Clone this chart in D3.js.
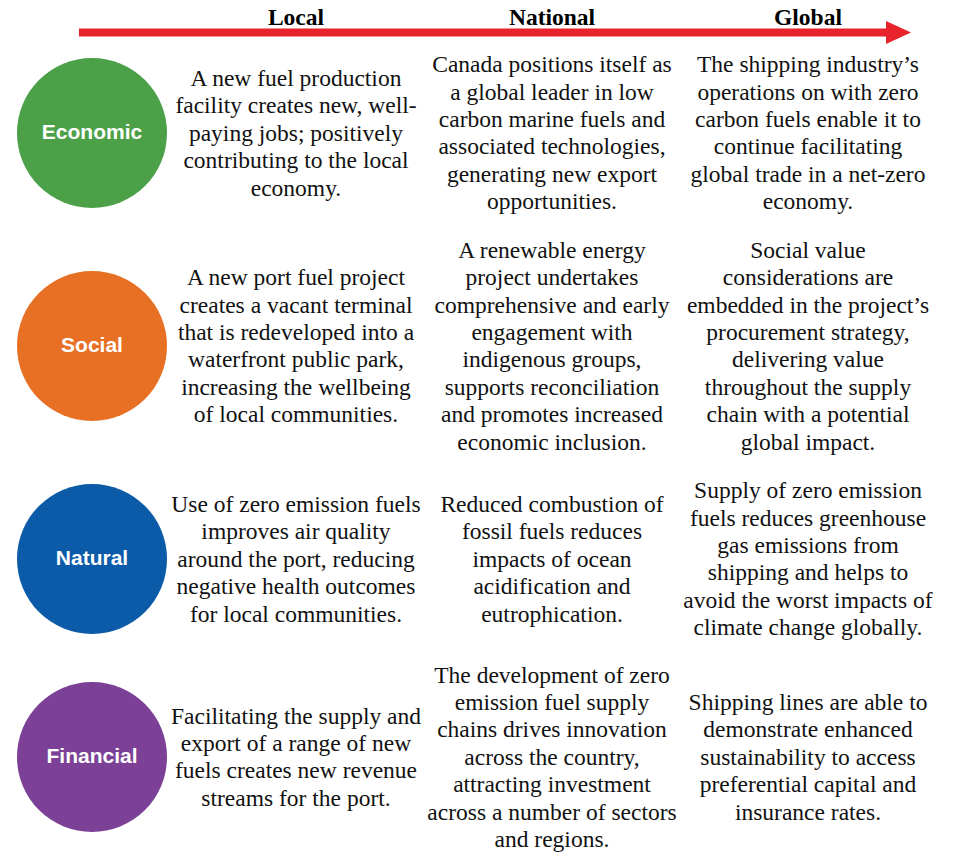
<!DOCTYPE html>
<html>
<head>
<meta charset="utf-8">
<script src="https://cdn.jsdelivr.net/npm/d3@7"></script>
<style>
  body { margin: 0; background: #fff; }
</style>
</head>
<body>
<div id="chart"></div>
<script>
// Columns of the scale arrow and the four value dimensions
var levels = ["Local", "National", "Global"];
var dimensions = ["Economic", "Social", "Natural", "Financial"];
var dimColors = ["#4ca148", "#e77025", "#0b5ba8", "#7c4196"];

// Text for each dimension, one array of lines per cell
var localText = [
	["A new fuel production", "facility creates new, well-", "paying jobs; positively", "contributing to the local", "economy."],
	["A new port fuel project", "creates a vacant terminal", "that is redeveloped into a", "waterfront public park,", "increasing the wellbeing", "of local communities."],
	["Use of zero emission fuels", "improves air quality", "around the port, reducing", "negative health outcomes", "for local communities."],
	["Facilitating the supply and", "export of a range of new", "fuels creates new revenue", "streams for the port."]
];
var nationalText = [
	["Canada positions itself as", "a global leader in low", "carbon marine fuels and", "associated technologies,", "generating new export", "opportunities."],
	["A renewable energy", "project undertakes", "comprehensive and early", "engagement with", "indigenous groups,", "supports reconciliation", "and promotes increased", "economic inclusion."],
	["Reduced combustion of", "fossil fuels reduces", "impacts of ocean", "acidification and", "eutrophication."],
	["The development of zero", "emission fuel supply", "chains drives innovation", "across the country,", "attracting investment", "across a number of sectors", "and regions."]
];
var globalText = [
	["The shipping industry\u2019s", "operations on with zero", "carbon fuels enable it to", "continue facilitating", "global trade in a net-zero", "economy."],
	["Social value", "considerations are", "embedded in the project\u2019s", "procurement strategy,", "delivering value", "throughout the supply", "chain with a potential", "global impact."],
	["Supply of zero emission", "fuels reduces greenhouse", "gas emissions from", "shipping and helps to", "avoid the worst impacts of", "climate change globally."],
	["Shipping lines are able to", "demonstrate enhanced", "sustainability to access", "preferential capital and", "insurance rates."]
];

var width = 955, height = 853;
var lineH = 27.4;

var svg = d3.select("#chart")
	.append("svg")
	.attr("width", width)
	.attr("height", height);

// x position of each text column
var x = d3.scalePoint()
	.domain(levels)
	.range([296, 808]);

// row centres
var y = d3.scaleOrdinal()
	.domain(dimensions)
	.range([133, 346, 559, 757]);

var color = d3.scaleOrdinal()
	.domain(dimensions)
	.range(dimColors);

// Red arrow across the top
svg.append("rect")
	.attr("x", 79)
	.attr("y", 28.5)
	.attr("width", 808)
	.attr("height", 8)
	.attr("fill", "#e8232b");
svg.append("path")
	.attr("d", "M886,21 L911,32.5 L886,44 Z")
	.attr("fill", "#e8232b");

// Column headers
svg.selectAll(".header")
	.data(levels)
	.enter()
	.append("text")
	.attr("class", "header")
	.attr("x", function(d) { return x(d); })
	.attr("y", 25)
	.attr("text-anchor", "middle")
	.style("font-family", "'Liberation Serif', 'Times New Roman', serif")
	.style("font-weight", "bold")
	.style("font-size", "23.5px")
	.text(function(d) { return d; });

// Circles with dimension names
var rows = svg.selectAll(".row")
	.data(dimensions)
	.enter()
	.append("g")
	.attr("class", "row")
	.attr("transform", function(d) { return "translate(0," + y(d) + ")"; });

rows.append("circle")
	.attr("cx", 92)
	.attr("cy", 0)
	.attr("r", 75)
	.attr("fill", function(d) { return color(d); });

rows.append("text")
	.attr("x", 92)
	.attr("y", 0)
	.attr("dy", "0.3em")
	.attr("text-anchor", "middle")
	.attr("fill", "#fff")
	.style("font-family", "'Liberation Sans', Arial, sans-serif")
	.style("font-weight", "bold")
	.style("font-size", "21px")
	.text(function(d) { return d; });

// Text blocks, centred vertically on the row
var columns = [localText, nationalText, globalText];
levels.forEach(function(level, ci) {
	rows.append("text")
		.attr("x", x(level))
		.attr("text-anchor", "middle")
		.attr("fill", "#111")
		.style("font-family", "'Liberation Serif', 'Times New Roman', serif")
		.style("font-size", "23.5px")
		.each(function(d, ri) {
			var lines = columns[ci][ri];
			var top = -(lines.length - 1) * lineH / 2;
			d3.select(this).selectAll("tspan")
				.data(lines)
				.enter()
				.append("tspan")
				.attr("x", x(level))
				.attr("y", function(l, i) { return top + i * lineH; })
				.attr("dy", "0.33em")
				.text(function(l) { return l; });
		});
});
</script>
</body>
</html>
